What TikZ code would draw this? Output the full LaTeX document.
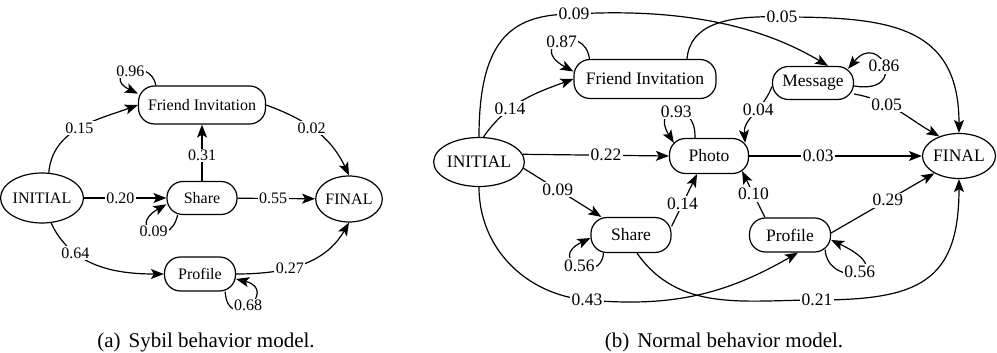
\documentclass[tikz,border=0pt]{standalone}
\usepackage{fontspec}
\setmainfont{Liberation Serif}
\usetikzlibrary{arrows.meta, shapes.geometric}
\newlength{\boxround}
\setlength{\boxround}{16pt}
\tikzset{state/.style = {shape=rectangle,rounded corners=\boxround,draw,line width=1.2pt,inner sep=0pt}}
\tikzset{term/.style = {shape=ellipse,draw,line width=1.2pt,inner sep=0pt}}
\tikzset{edge/.style = {-{Stealth[length=13pt,width=10pt,inset=3pt]},line width=1.2pt}}
\tikzset{prob/.style = {fill=white,inner sep=1.5pt}}
\tikzset{sybil/.style = {font=\rmfamily\fontsize{16}{19}\selectfont}}
\tikzset{normal/.style = {font=\rmfamily\fontsize{17.5}{21}\selectfont}}
\tikzset{caption/.style = {font=\rmfamily\fontsize{21}{25}\selectfont}}

\begin{document}
\begin{tikzpicture}[x=1pt, y=-1pt]
  \useasboundingbox (0,0) rectangle (997,353);

  % (a) sybil model
  \begin{scope}[sybil]
    \node[term, minimum width=71pt, minimum height=50pt] (ini) at (42,198) {INITIAL};
    \node[state, minimum width=127pt, minimum height=38pt] (fi) at (202,105) {Friend Invitation};
    \node[state, minimum width=70pt, minimum height=33pt] (sh) at (202,198) {Share};
    \node[term, minimum width=66pt, minimum height=46pt] (fin) at (349,199) {FINAL};
    \node[state, minimum width=71pt, minimum height=34pt] (pr) at (200,274) {Profile};

    \draw[edge] (ini.75) to[out=85,in=200] node[prob,pos=0.5] {0.15} (fi.west);
    \draw[edge] (fi.157) .. controls (150,55) and (100,75) .. node[prob] {0.96} (fi.170);
    \draw[edge] (sh) -- node[prob,pos=0.45] {0.31} (fi);
    \draw[edge] (fi.east) to[out=-20,in=115] node[prob,pos=0.45] {0.02} (fin.north);
    \draw[edge] (ini) -- node[prob,pos=0.44] {0.20} (sh);
    \draw[edge] (sh.215) .. controls (170,250) and (125,228) .. node[prob] {0.09} (sh.190);
    \draw[edge] (sh) -- node[prob,pos=0.46] {0.55} (fin);
    \draw[edge] (ini.290) to[out=-65,in=180] node[prob,pos=0.3] {0.64} (pr.west);
    \draw[edge] (pr.east) to[out=0,in=240] node[prob,pos=0.4] {0.27} (fin.south);
    \draw[edge] (pr.-35) .. controls (228,335) and (280,290) .. node[prob] {0.68} ([yshift=-5pt]pr.east);
  \end{scope}

  % (b) normal model
  \begin{scope}[normal]
    \node[term, minimum width=88pt, minimum height=49pt] (iniB) at (479,162) {INITIAL};
    \node[state, minimum width=142pt, minimum height=39pt] (fiB) at (645,79) {Friend Invitation};
    \node[state, minimum width=79pt, minimum height=35pt] (ph) at (709,156) {Photo};
    \node[state, minimum width=80pt, minimum height=35pt] (shB) at (631,235) {Share};
    \node[state, minimum width=81pt, minimum height=33pt] (msg) at (813,83) {Message};
    \node[term, minimum width=73pt, minimum height=45pt] (finB) at (959,156) {FINAL};
    \node[state, minimum width=81pt, minimum height=34pt] (prB) at (790,235) {Profile};

    \draw[edge] (iniB.north) .. controls (479,35) and (515,14) .. (574,14) node[prob] {0.09}
      .. controls (680,8) and (760,25) .. ([xshift=15pt]msg.north);
    \draw[edge] ([xshift=42pt]fiB.north) .. controls (690,25) and (725,15) .. (782,17) node[prob] {0.05}
      to[out=0,in=90,looseness=1.3] (finB.north);
    \draw[edge] ([xshift=16pt]fiB.north west) .. controls (585,22) and (525,45) .. node[prob] {0.87} (fiB.174);
    \draw[edge] (iniB.80) to[out=55,in=200] node[prob,pos=0.35] {0.14} (fiB.west);
    \draw[edge] (iniB.10) -- node[prob,pos=0.57] {0.22} (ph.west);
    \draw[edge] (iniB.-8) -- node[prob,pos=0.44] {0.09} ([xshift=11pt]shB.north west);
    \draw[edge] ([xshift=26pt]ph.north west) .. controls (697,100) and (650,105) .. node[prob] {0.93} ([xshift=5pt,yshift=-5pt]ph.north west);
    \draw[edge] (shB.12) -- node[prob,pos=0.43] {0.14} ([xshift=-12pt]ph.south);
    \draw[edge] ([xshift=13pt]shB.south west) .. controls (602,285) and (545,260) .. node[prob] {0.56} ([yshift=-3pt]shB.west);
    \draw[edge] (iniB.south) to[out=-90,in=175] (587,300) node[prob] {0.43}
      to[out=-5,in=-150] ([xshift=8pt]prB.south);
    \draw[edge] ([xshift=6pt]shB.south) to[out=-55,in=180] (817,300) node[prob] {0.21}
      to[out=0,in=-90,looseness=1.4] (finB.south);
    \draw[edge] (msg.185) to[out=-110,in=95] node[prob,pos=0.4] {0.04} ([xshift=-4pt,yshift=-5pt]ph.north east);
    \draw[edge] ([yshift=-3pt]msg.east) .. controls (910,95) and (880,30) .. node[prob] {0.86} ([xshift=-6pt,yshift=-3pt]msg.north east);
    \draw[edge] (msg.-15) to[out=-10,in=150] node[prob,pos=0.35] {0.05} (finB.135);
    \draw[edge] (ph) -- node[prob,pos=0.4] {0.03} (finB);
    \draw[edge] ([xshift=16pt]prB.north west) -- node[prob] {0.10} ([xshift=-7pt,yshift=3pt]ph.south east);
    \draw[edge] ([yshift=2pt]prB.east) -- node[prob,pos=0.55] {0.29} (finB.215);
    \draw[edge] ([xshift=-6pt,yshift=3pt]prB.south east) .. controls (828,290) and (905,275) .. node[prob,pos=0.55] {0.56} ([yshift=-5pt]prB.east);
  \end{scope}

  \node[caption] (capA) at (206,342) {(a)\hspace{8pt}Sybil behavior model.};
  \node[caption] (capB) at (724,342) {(b)\hspace{8pt}Normal behavior model.};
\end{tikzpicture}
\end{document}
